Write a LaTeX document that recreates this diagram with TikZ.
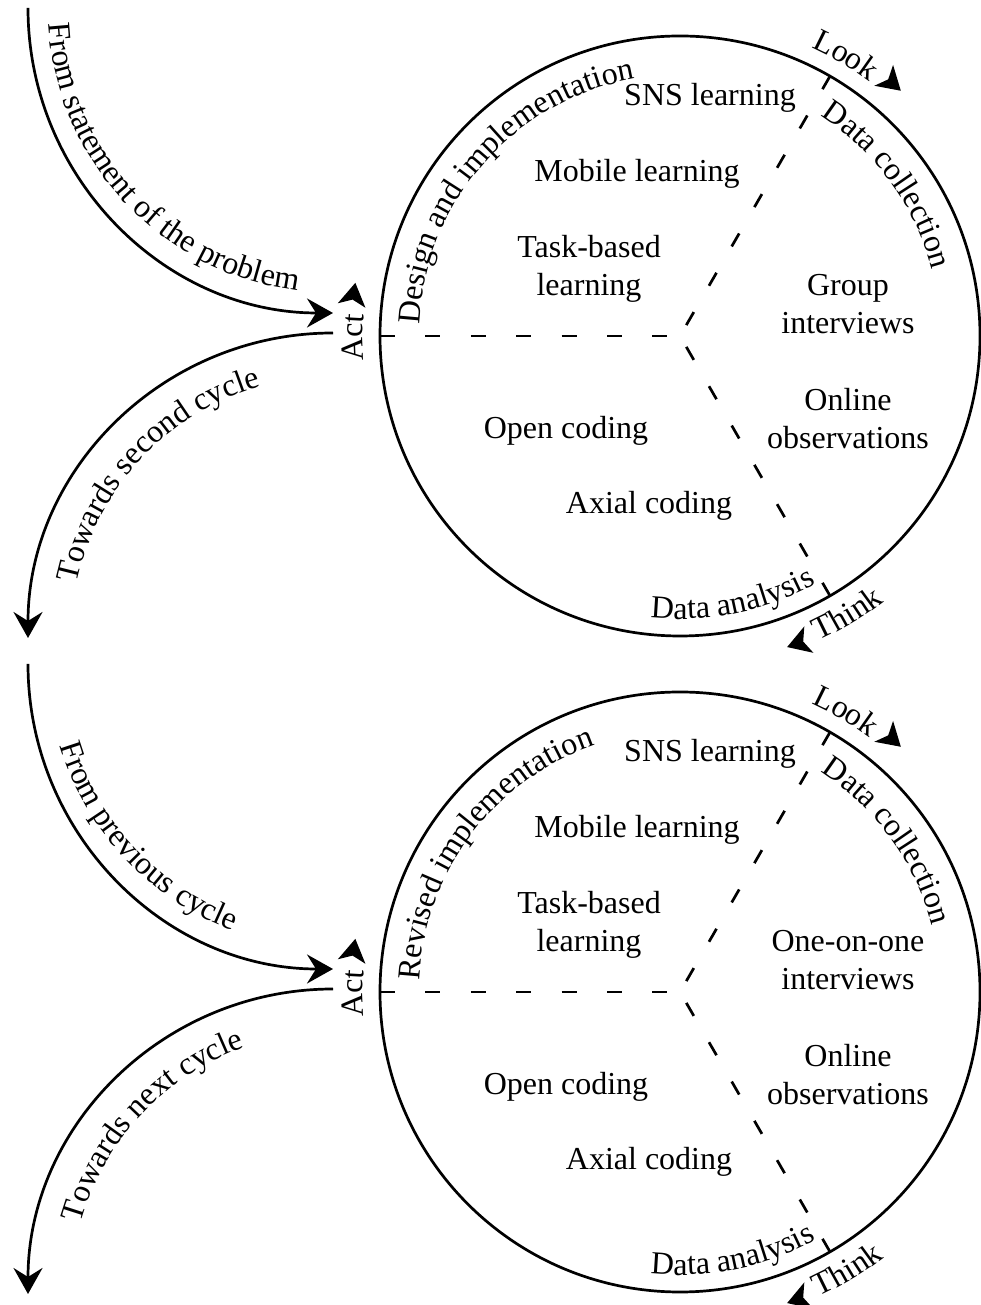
\documentclass[tikz,border=0pt]{standalone}
\usepackage{fontspec}
\setmainfont{Liberation Serif}
\usetikzlibrary{decorations.text,arrows.meta}
\newcommand\cyf{\fontsize{32}{38}\selectfont}
\tikzset{
  lbl/.style={font=\cyf, inner sep=0pt, anchor=base},
  ring/.style={circle, draw, line width=2.7pt, minimum size=600pt, inner sep=0pt, outer sep=0pt},
  flow/.style={line width=2.7pt, -{Stealth[length=26pt,width=29pt,inset=9pt]}},
  split/.style={line width=2.7pt, dash pattern=on 15pt off 30.4pt},
  ahead/.pic={\fill (0pt,0pt) -- (-23pt,14pt) -- (-17pt,0pt) -- (-23pt,-14pt) -- cycle;},
  ltext/.style={decorate, decoration={text along path, text={|\cyf|#1}}},
  ctext/.style={decorate, decoration={text along path, text align=center, text={|\cyf|#1}}},
}
\newcommand\cycleunit[7]{%
\begin{scope}[yshift=#2]
  \node[ring] (#1c) at (680,969) {};
  \coordinate (#1o) at (680,969);
  \draw[split] (#1c.180) -- (#1o);
  \draw[split] (#1c.60) -- (#1o);
  \draw[split] (#1c.300) -- (#1o);
  % incoming / outgoing arrows
  \coordinate (#1ins) at (28,1297);
  \coordinate (#1ine) at (333,992);
  \coordinate (#1outs) at (333,972);
  \coordinate (#1oute) at (28,667);
  \draw[flow] (#1ins) to[out=-90,in=180] (#1ine);
  \draw[flow] (#1outs) to[out=180,in=90] (#1oute);
  \path[ctext={#3}] (333,1297) ++(183:285pt) arc[start angle=183, end angle=263, radius=285pt];
  \path[ctext={#4}] (333,667) ++(172:262pt) arc[start angle=172, end angle=102, radius=262pt];
  % labels along the circle
  \path[ltext={#5}] (#1o) ++(177.5:261pt) arc[start angle=177.5, end angle=60, radius=261pt];
  \path[ltext={Data collection}] (#1o) ++(57.5:261pt) arc[start angle=57.5, end angle=-20, radius=261pt];
  \path[ltext={Data analysis}] (#1o) ++(-96:283pt) arc[start angle=-96, end angle=-30, radius=283pt];
  \path[ltext={Look}] (#1o) ++(65.5:317pt) arc[start angle=65.5, end angle=30, radius=317pt];
  \path[ltext={Think}] (#1o) ++(-65.5:335pt) arc[start angle=-65.5, end angle=-20, radius=335pt];
  \path[ltext={Act}] (#1o) ++(184.5:317pt) arc[start angle=184.5, end angle=150, radius=317pt];
  \path (#1o) ++(170.7:329pt) pic[rotate=80.7]{ahead};
  \path (#1o) ++(48:330pt) pic[rotate=-42]{ahead};
  \path (#1o) ++(-71:329pt) pic[rotate=-161]{ahead};
  % inner texts
  \node[lbl] (#1sns) at (710,1199) {SNS learning};
  \node[lbl] (#1mob) at (637,1123) {Mobile learning};
  \node[lbl] (#1tba) at (589,1047) {Task-based};
  \node[lbl] (#1tbb) at (589,1009) {learning};
  \node[lbl] (#1iva) at (848,1009) {#6};
  \node[lbl] (#1ivb) at (848,971) {#7};
  \node[lbl] (#1ona) at (848,894) {Online};
  \node[lbl] (#1onb) at (848,856) {observations};
  \node[lbl] (#1opc) at (566,866) {Open coding};
  \node[lbl] (#1axc) at (649,791) {Axial coding};
\end{scope}}
\begin{document}
\begin{tikzpicture}[x=1pt,y=1pt]
  \useasboundingbox (0,0) rectangle (980,1305);
  \cycleunit{t}{0pt}{From statement of the problem}{Towards second cycle}{Design and implementation}{Group}{interviews}
  \cycleunit{b}{-656pt}{From previous cycle}{Towards next cycle}{Revised implementation}{One-on-one}{interviews}
\end{tikzpicture}
\end{document}
